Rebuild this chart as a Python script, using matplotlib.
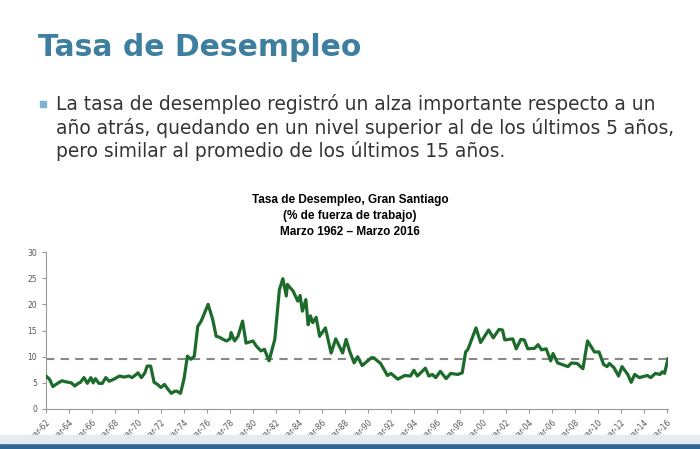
import matplotlib
matplotlib.use("Agg")
import matplotlib.pyplot as plt
from matplotlib.patches import Rectangle

years = [1962.0,1962.3,1962.6,1963.0,1963.4,1963.7,1964.2,1964.5,1964.8,1965.0,1965.3,1965.6,1965.9,1966.1,1966.3,1966.6,1966.9,1967.2,1967.5,1967.9,1968.4,1968.8,1969.2,1969.5,1970.0,1970.3,1970.6,1970.8,1971.1,1971.4,1971.7,1972.0,1972.3,1972.6,1972.9,1973.2,1973.4,1973.7,1974.0,1974.3,1974.6,1974.9,1975.2,1975.5,1976.1,1976.5,1976.8,1977.1,1977.4,1977.7,1978.0,1978.1,1978.4,1978.7,1979.1,1979.4,1980.0,1980.3,1980.7,1981.0,1981.4,1981.9,1982.3,1982.6,1982.9,1983.0,1983.5,1983.9,1984.1,1984.3,1984.6,1984.8,1985.0,1985.2,1985.5,1985.8,1986.3,1986.8,1987.2,1987.8,1988.1,1988.4,
 1988.8,1989.1,1989.5,1990.3,1990.5,1991.1,1991.7,1992.0,1992.6,1993.2,1993.7,1994.0,1994.3,1995.0,1995.3,1995.6,1995.9,1996.3,1996.8,1997.2,1997.8,1998.2,1998.5,1998.7,1999.4,1999.8,2000.5,2000.9,2001.4,2001.7,2001.9,2002.6,2002.9,2003.3,2003.6,2003.9,2004.5,2004.8,2005.1,2005.5,2005.9,2006.1,2006.5,2006.9,2007.4,2007.7,2008.2,2008.7,2009.1,2009.7,2010.1,2010.5,2010.8,2011.0,2011.4,2011.8,2012.1,2012.6,2012.9,2013.2,2013.6,2014.3,2014.6,2015.0,2015.4,2015.6,2015.8,2016.1]
rate = [6.3,5.7,4.3,4.9,5.4,5.2,5.0,4.4,4.9,5.1,6.0,4.9,6.0,5.0,5.8,4.9,4.9,6.0,5.3,5.7,6.3,6.1,6.3,6.0,6.9,6.0,6.9,8.2,8.2,5.1,4.7,4.1,4.7,3.8,3.0,3.4,3.4,3.0,5.7,10.1,9.5,10.1,15.8,16.8,20.0,17.1,13.9,13.7,13.3,13.0,13.4,14.6,13.0,13.9,16.8,12.6,13.0,12.0,11.1,11.4,9.2,13.3,22.8,24.9,21.6,23.8,22.5,20.6,21.7,18.7,20.9,16.1,17.8,16.5,17.5,13.9,15.5,10.7,13.4,10.7,13.3,11.1,
 8.8,10.0,8.3,9.8,9.8,8.7,6.4,6.8,5.7,6.4,6.3,7.4,6.3,7.8,6.3,6.6,6.0,7.2,5.8,6.8,6.6,6.9,10.9,11.4,15.5,12.7,15.1,13.6,15.2,15.1,13.2,13.4,11.5,13.3,13.2,11.5,11.6,12.3,11.3,11.5,9.2,10.6,8.8,8.5,8.1,8.8,8.7,7.7,13.0,10.9,10.9,8.5,8.1,8.7,7.9,6.3,8.1,6.6,5.1,6.6,6.0,6.4,6.0,6.8,6.6,7.1,6.8,9.6]
average = 9.5
tick_years = list(range(1962, 2017, 2))
tick_labels = ["mar-%02d" % (y % 100) for y in tick_years]

fig = plt.figure(figsize=(7, 4.49), dpi=100)
fig.patch.set_facecolor("white")

fig.text(38/700, 1-48/449, "Tasa de Desempleo", fontsize=21.5, fontweight="bold",
         color="#3e7fa0", va="center", family="DejaVu Sans")
fig.patches.append(Rectangle((40/700, 1-107/449), 6/700, 6/449, transform=fig.transFigure,
                             color="#7fb2d3", figure=fig))
lines = ["La tasa de desempleo registró un alza importante respecto a un",
         "año atrás, quedando en un nivel superior al de los últimos 5 años,",
         "pero similar al promedio de los últimos 15 años."]
for i, t in enumerate(lines):
    fig.text(56/700, 1-(104+23.5*i)/449, t, fontsize=13.4, color="#333333", va="center",
             family="DejaVu Sans")

fig.text(0.5, 1-200/449, "Tasa de Desempleo, Gran Santiago", fontsize=8.5, fontweight="bold",
         ha="center", va="center", family="Liberation Sans")
fig.text(0.5, 1-216/449, "(% de fuerza de trabajo)", fontsize=8.5, fontweight="bold",
         ha="center", va="center", family="Liberation Sans")
fig.text(0.5, 1-232/449, "Marzo 1962 – Marzo 2016", fontsize=8.5, fontweight="bold",
         ha="center", va="center", family="Liberation Sans")

ax = fig.add_axes([46/700, 1-409/449, (668-46)/700, (409-252)/449])
ax.plot(years, rate, color="#1d6b2a", lw=2.3, zorder=3)
ax.axhline(average, color="#888888", lw=1.5, ls=(0, (4, 3)), zorder=2)
ax.set_xlim(1962, 2016.1)
ax.set_ylim(0, 30)
ax.set_yticks(range(0, 31, 5))
ax.set_xticks(tick_years)
ax.set_xticklabels(tick_labels, rotation=45, ha="right", rotation_mode="anchor")
ax.tick_params(labelsize=5.5, colors="#555555", length=3, color="#999999")
for s in ["top", "right"]:
    ax.spines[s].set_visible(False)
for s in ["left", "bottom"]:
    ax.spines[s].set_color("#999999")

fig.patches.append(Rectangle((0, 0), 1, 6/449, transform=fig.transFigure, color="#2f6696", figure=fig))
fig.patches.append(Rectangle((0, 6/449), 1, 8/449, transform=fig.transFigure, color="#e6ebf0", figure=fig))

fig.savefig("out.png", dpi=100)
